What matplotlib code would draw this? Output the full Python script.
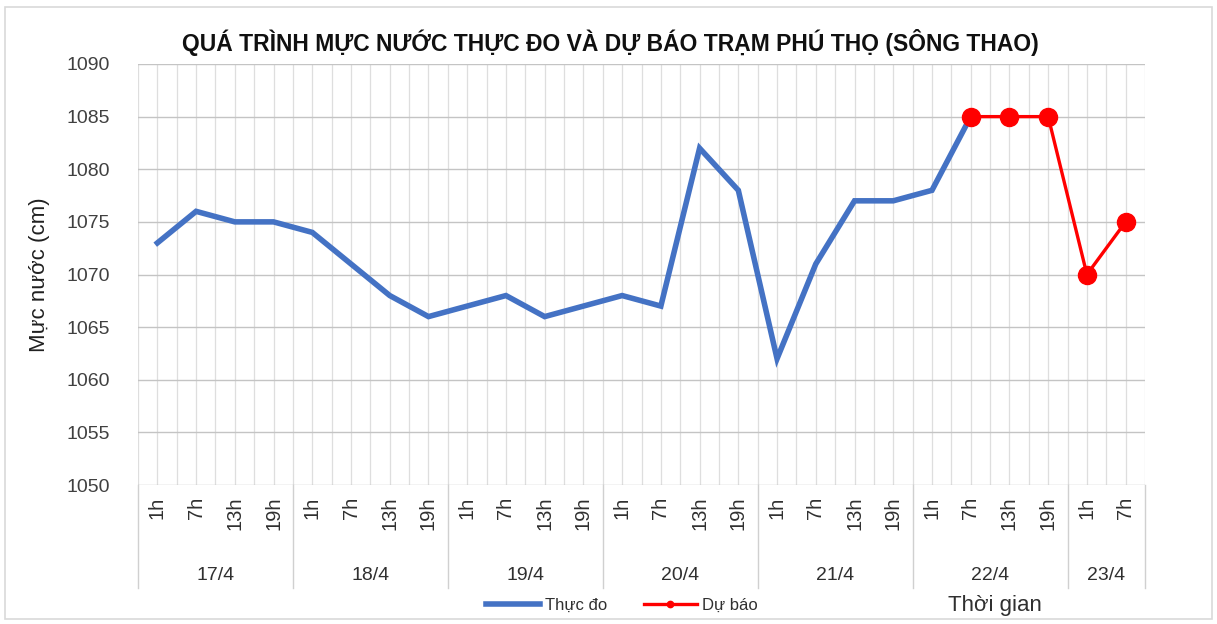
import matplotlib
matplotlib.use("Agg")
import matplotlib.pyplot as plt
from matplotlib.lines import Line2D
from matplotlib.patches import Rectangle
import matplotlib.transforms as mtransforms

days = ["17/4", "18/4", "19/4", "20/4", "21/4", "22/4", "23/4"]
hours_per_day = [["1h", "7h", "13h", "19h"]] * 6 + [["1h", "7h"]]
hour_labels = [h for hs in hours_per_day for h in hs]

observed = [1073, 1076, 1075, 1075,
            1074, 1071, 1068, 1066,
            1067, 1068, 1066, 1067,
            1068, 1067, 1082, 1078,
            1062, 1071, 1077, 1077,
            1078, 1085]
forecast_start = 21
forecast = [1085, 1085, 1085, 1070, 1075]

yticks = [1050, 1055, 1060, 1065, 1070, 1075, 1080, 1085, 1090]

plt.rcParams['font.family'] = ['Liberation Sans', 'DejaVu Sans']

fig = plt.figure(figsize=(12.17, 6.24), dpi=100)
W, H = 1217, 624
ax = fig.add_axes([138 / W, 1 - 485 / H, (1145 - 138) / W, (485 - 64) / H])

n = len(hour_labels)
x_obs = list(range(len(observed)))
x_fc = list(range(forecast_start, forecast_start + len(forecast)))

# grid
for k in range(2 * n + 1):
    ax.axvline(-0.5 + 0.5 * k, color='#dedede', lw=0.9, zorder=0)
for yv in yticks:
    ax.axhline(yv, color='#c4c4c4', lw=1.0, zorder=0)

ax.plot(x_obs, observed, color='#4472C4', lw=4.0, solid_joinstyle='miter', zorder=3, label='Thực đo')
ax.plot(x_fc, forecast, color='#FF0000', lw=2.4, marker='o', markersize=13, zorder=4, label='Dự báo')

ax.set_xlim(-0.5, n - 0.5)
ax.set_ylim(1050, 1090)
ax.set_yticks(yticks)
ax.set_yticklabels([str(v) for v in yticks], fontsize=14, color='#404040')
ax.tick_params(axis='y', length=0, pad=20)
ax.set_xticks([])
for s in ax.spines.values():
    s.set_visible(False)

trans = mtransforms.blended_transform_factory(ax.transData, ax.transAxes)
for i, lab in enumerate(hour_labels):
    ax.text(i, -0.028, lab, rotation=90, ha='center', va='top', fontsize=14.5,
            color='#303030', transform=trans)

start = 0
bounds = [-0.5]
for d, hs in zip(days, hours_per_day):
    end = start + len(hs)
    ax.text((start + end - 1) / 2, -0.214, d, ha='center', va='center', fontsize=14,
            color='#303030', transform=trans)
    bounds.append(end - 0.5)
    start = end
for b in bounds:
    ax.add_line(Line2D([b, b], [0, -0.245], transform=trans, color='#d0d0d0', lw=1.0, clip_on=False))

ax.set_ylabel('Mực nước (cm)', fontsize=16, color='#202020', labelpad=12)

fig.text(610 / W, 1 - 42 / H, 'QUÁ TRÌNH MỰC NƯỚC THỰC ĐO VÀ DỰ BÁO TRẠM PHÚ THỌ (SÔNG THAO)',
         ha='center', va='center', fontsize=16.5, fontweight='bold', color='#101010')

leg = fig.legend(loc='center', bbox_to_anchor=(622 / W, 1 - 605 / H), ncol=2, frameon=False,
                 fontsize=12, handlelength=3.2, columnspacing=2.2, handletextpad=0.3,
                 markerscale=0.35)
for t in leg.get_texts():
    t.set_color('#303030')

fig.text(995 / W, 1 - 606 / H, 'Thời gian', ha='center', va='center', fontsize=16, color='#303030')

fig.patches.append(Rectangle((5 / W, 5 / H), 1 - 10 / W, 1 - 12 / H, transform=fig.transFigure,
                             fill=False, edgecolor='#d9d9d9', lw=1.2))

fig.savefig('out.png', dpi=100)
